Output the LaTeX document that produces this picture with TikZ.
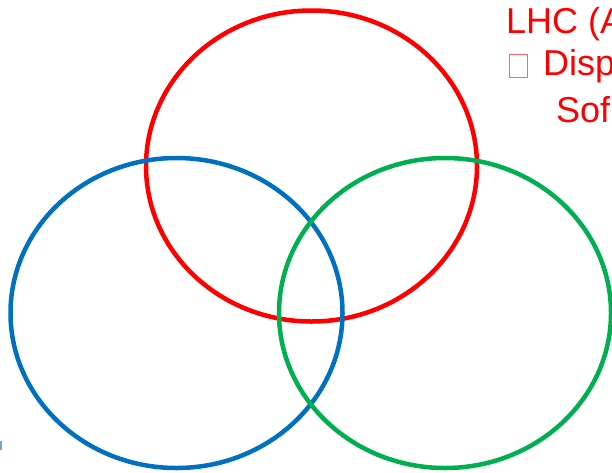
\documentclass[tikz,border=0pt]{standalone}
\usepackage{fontspec}
\setmainfont{Liberation Sans}
\definecolor{ringred}{RGB}{255,0,0}
\definecolor{ringblue}{RGB}{0,112,192}
\definecolor{ringgreen}{RGB}{0,176,80}
\begin{document}
\begin{tikzpicture}[x=1pt,y=-1pt,
  ring/.style={line width=4.5pt},
  redtext/.style={text=ringred,font=\fontsize{36}{43}\selectfont,anchor=base west,inner sep=0pt}]
\useasboundingbox (0,0) rectangle (612,472);
\clip (0,0) rectangle (612,472);
\fill[white] (0,0) rectangle (612,472);
\draw[ring,ringred] (311.5,166) ellipse [x radius=165.5, y radius=155.5];
\draw[ring,ringblue] (176.5,313) ellipse [x radius=166, y radius=155];
\draw[ring,ringgreen] (445,313) ellipse [x radius=166, y radius=155];
\node[redtext] (l1) at (506,33) {LHC (A};
\node[draw=ringred!60,line width=0.8pt,minimum width=18pt,minimum height=23pt,inner sep=0pt,anchor=north west] (box) at (509,54) {};
\node[redtext] (l2) at (543,75) {Disp};
\node[redtext] (l3) at (556,122) {Sof};
\fill[ringblue!60] (0,441) rectangle (1.5,450);
\end{tikzpicture}
\end{document}
